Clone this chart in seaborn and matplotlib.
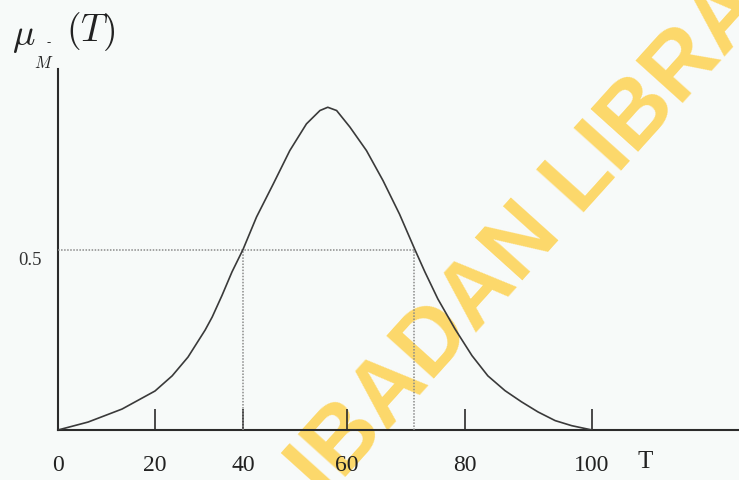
import numpy as np
import pandas as pd
import matplotlib
matplotlib.use("Agg")
import matplotlib.pyplot as plt
import matplotlib.transforms as mtransforms
import seaborn as sns

# ---------------- data ----------------
T_values = [0.0, 6.2, 13.2, 20.0, 23.9, 27.5, 31.4, 33.0, 35.2, 37.5, 40.0,
            42.6, 45.8, 49.0, 52.2, 54.8, 56.3, 58.0, 60.5, 63.3, 66.1,
            68.9, 71.5, 73.2, 75.4, 78.3, 81.1, 83.6, 86.3, 88.9, 91.5,
            94.2, 96.8, 100.0]
mu_values = [0.0, 0.022, 0.058, 0.108, 0.150, 0.202, 0.277, 0.313, 0.372,
             0.438, 0.500, 0.590, 0.681, 0.774, 0.848, 0.885, 0.894, 0.885,
             0.839, 0.774, 0.691, 0.598, 0.500, 0.438, 0.363, 0.280, 0.206,
             0.150, 0.109, 0.078, 0.050, 0.026, 0.012, 0.0]
x_label_values = [0, 20, 40, 60, 80, 100]
x_tick_labels = ["0", "20", "40", "60", "80", "100"]
cut_level = 0.5
cut_points = [40.0, 71.4]
y_tick_labels = ["0.5"]
watermark_text = "IBADAN LIBRARY"

# ---------------- hand-drawn (non-uniform) axis scale ----------------
W, H = 739, 481
scale_T = np.array([-300.0, 0, 20, 40, 60, 80, 100, 400])
scale_px = np.array([58 - 300 * 97 / 20, 58, 155, 243, 347, 465, 592, 592 + 300 * 6.35])


def fwd(t):
    return np.interp(t, scale_T, scale_px)


def inv(p):
    return np.interp(p, scale_px, scale_T)


sns.set_theme(style="white")
plt.rcParams["font.family"] = ["Liberation Serif", "DejaVu Serif"]
plt.rcParams["mathtext.fontset"] = "cm"

bg = "#f7faf9"
ink = "#2b2b2b"

fig = plt.figure(figsize=(W / 100, H / 100), dpi=100, facecolor=bg)
ax = fig.add_axes([58 / W, (H - 431) / H, (W - 58) / W, (431 - 70) / H])
ax.patch.set_visible(False)
ax.set_xscale("function", functions=(fwd, inv))

df = pd.DataFrame({"T": T_values, "mu": mu_values})
sns.lineplot(data=df, x="T", y="mu", ax=ax, color="#3a3a3a", lw=1.2,
             sort=False, zorder=5)

# alpha-cut dotted guides
ax.hlines(cut_level, 0, cut_points[1], colors="#8a8a8a", linestyles=(0, (1, 1)),
          lw=1.1, zorder=3)
ax.vlines(cut_points, 0, cut_level, colors="#8a8a8a", linestyles=(0, (1, 1)),
          lw=1.1, zorder=3)

ax.set_xlim(0, inv(W))
ax.set_ylim(0, 1)

for s in ["top", "right"]:
    ax.spines[s].set_visible(False)
for s in ["left", "bottom"]:
    ax.spines[s].set_color(ink)
    ax.spines[s].set_linewidth(1.5)

ax.set_xticks(x_label_values)
ax.set_xticklabels(x_tick_labels)
ax.tick_params(axis="x", bottom=True, direction="in", length=15, width=1.2,
               color=ink, pad=17, labelsize=17, labelcolor="#222222")
# no tick mark at the origin (it coincides with the y axis)
ax.xaxis.get_major_ticks()[0].tick1line.set_visible(False)

ax.set_yticks([cut_level])
ax.set_yticklabels(y_tick_labels)
ax.tick_params(axis="y", left=False, length=0, pad=12, labelsize=13.5,
               labelcolor="#333333")
off = mtransforms.ScaledTranslation(0, -0.08, fig.dpi_scale_trans)
for lab in ax.get_yticklabels():
    lab.set_transform(lab.get_transform() + off)

ax.set_xlabel("")
ax.set_ylabel("")

# axis labels
ax.text(inv(645), -0.086, "T", transform=ax.transData, fontsize=18,
        ha="center", va="center", color="#222222", clip_on=False)
fig.text(12 / W, 1 - 38 / H, r"$\mu$", fontsize=27, ha="left", va="center",
         color="#222222")
fig.text(44 / W, 1 - 64 / H, r"$M$", fontsize=12, ha="center", va="center",
         color="#222222")
fig.text(49 / W, 1 - 43 / H, "-", fontsize=9, ha="center", va="center",
         color="#222222")
fig.text(66 / W, 1 - 32 / H, r"$(T)$", fontsize=27, ha="left", va="center",
         color="#222222")

# watermark (beneath the line art)
fig.text(325 / W, 1 - 500 / H, watermark_text, rotation=48,
         rotation_mode="anchor", ha="left", va="baseline",
         fontsize=66, fontweight="bold", family="Liberation Sans",
         color="#fdd86a", zorder=-1)

fig.savefig("out.png", dpi=100, facecolor=bg)
